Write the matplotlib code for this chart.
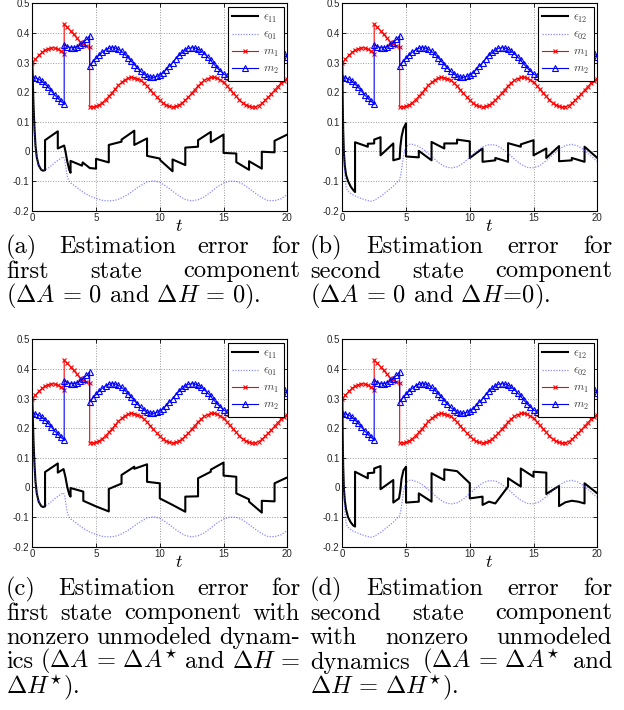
import numpy as np
import matplotlib
matplotlib.use("Agg")
import matplotlib.pyplot as plt

plt.rcParams['mathtext.fontset'] = 'cm'
plt.rcParams['font.family'] = ['Liberation Sans', 'DejaVu Sans']

# bounds m1, m2 sampled every 0.25 (t = 2.5 and 4.5 appear twice: the jumps)
t_m = np.concatenate([np.arange(0, 2.51, 0.25), np.arange(2.5, 4.51, 0.25), np.arange(4.5, 20.01, 0.25)])
m1 = [0.300, 0.312, 0.324, 0.334, 0.342, 0.347, 0.350, 0.349, 0.345, 0.339, 0.330,
      0.430, 0.419, 0.407, 0.395, 0.382, 0.371, 0.362, 0.355, 0.351,
      0.151, 0.150, 0.152, 0.157, 0.165, 0.175, 0.186, 0.198, 0.211, 0.223,
      0.233, 0.241, 0.247, 0.250, 0.249, 0.246, 0.240, 0.231, 0.221, 0.209,
      0.196, 0.184, 0.173, 0.163, 0.156, 0.152, 0.150, 0.152, 0.156, 0.164,
      0.173, 0.184, 0.197, 0.209, 0.221, 0.232, 0.240, 0.246, 0.250, 0.250,
      0.247, 0.241, 0.233, 0.222, 0.210, 0.198, 0.186, 0.174, 0.164, 0.157,
      0.152, 0.150, 0.151, 0.155, 0.162, 0.172, 0.183, 0.195, 0.207, 0.219,
      0.230, 0.239, 0.246]
m2 = [0.250, 0.248, 0.244, 0.237, 0.227, 0.216, 0.204, 0.191, 0.179, 0.169, 0.160,
      0.360, 0.354, 0.350, 0.350, 0.353, 0.359, 0.367, 0.378, 0.389,
      0.289, 0.302, 0.314, 0.326, 0.335, 0.343, 0.348, 0.350, 0.349, 0.345,
      0.338, 0.328, 0.317, 0.305, 0.293, 0.281, 0.270, 0.261, 0.254, 0.251,
      0.250, 0.253, 0.258, 0.266, 0.276, 0.288, 0.300, 0.313, 0.324, 0.334,
      0.342, 0.348, 0.350, 0.349, 0.345, 0.339, 0.330, 0.319, 0.307, 0.294,
      0.282, 0.271, 0.262, 0.255, 0.251, 0.250, 0.252, 0.257, 0.265, 0.275,
      0.286, 0.299, 0.311, 0.323, 0.333, 0.341, 0.347, 0.350, 0.349, 0.346,
      0.340, 0.331, 0.320]

# open-loop errors (dotted)
t_e01 = [0, 0.05, 0.1, 0.15, 0.2, 0.3, 0.4, 0.5, 0.65, 0.8, 1.0, 1.25, 1.5, 1.75, 2.0,
         2.25, 2.45, 2.55, 2.65, 2.75, 2.85, 3.0, 3.5, 4.0, 4.5, 5.0, 5.5, 6.0, 6.5,
         7.0, 7.5, 8.0, 8.5, 9.0, 9.5, 10.0, 10.5, 11.0, 11.5, 12.0, 12.5, 13.0, 13.5,
         14.0, 14.5, 15.0, 15.5, 16.0, 16.5, 17.0, 17.5, 18.0, 18.5, 19.0, 19.5, 20.0]
e01 = [0.30, 0.20, 0.13, 0.08, 0.045, -0.005, -0.03, -0.045, -0.058, -0.063,
       -0.062, -0.056, -0.048, -0.038, -0.030, -0.023, -0.018, -0.030, -0.060, -0.085,
       -0.098, -0.106, -0.122, -0.138, -0.150, -0.159, -0.165, -0.167, -0.165, -0.157,
       -0.145, -0.130, -0.115, -0.103, -0.099, -0.104, -0.118, -0.134, -0.150, -0.162,
       -0.167, -0.163, -0.153, -0.137, -0.120, -0.107, -0.100, -0.101, -0.110, -0.125,
       -0.141, -0.156, -0.166, -0.166, -0.160, -0.145]
t_e02 = [0, 0.05, 0.1, 0.15, 0.2, 0.3, 0.4, 0.6, 0.8, 1.0, 1.5, 2.0, 2.25, 2.5, 3.0,
         3.5, 4.0, 4.5, 4.6, 4.7, 4.8, 4.9, 5.0, 5.25, 5.5, 6.0, 6.5, 7.0, 7.5, 8.0,
         8.5, 9.0, 9.5, 10.0, 10.5, 11.0, 11.5, 12.0, 12.5, 13.0, 13.5, 14.0, 14.5,
         15.0, 15.5, 16.0, 16.5, 17.0, 17.5, 18.0, 18.5, 19.0, 19.5, 20.0]
e02 = [0.30, 0.15, 0.04, -0.04, -0.085, -0.12, -0.132, -0.14, -0.146, -0.150,
       -0.159, -0.166, -0.168, -0.165, -0.152, -0.135, -0.117, -0.095, -0.075, -0.045,
       -0.015, 0.005, 0.016, 0.024, 0.024, 0.017, 0.002, -0.017, -0.036, -0.050,
       -0.056, -0.052, -0.039, -0.020, -0.001, 0.015, 0.023, 0.022, 0.011, -0.006,
       -0.026, -0.043, -0.054, -0.055, -0.048, -0.031, -0.012, 0.007, 0.020, 0.024,
       0.018, 0.004, -0.015, -0.034]

# event-triggered errors (solid black), vertices
t_e11a = [0, 0.05, 0.1, 0.17, 0.25, 0.35, 0.5, 0.7, 0.85, 1.0, 1.0, 2.0,
          2.0, 2.5, 2.6, 2.75, 2.9, 3.0, 3.0, 3.9, 3.95, 4.45, 4.5, 5.0, 5.0, 6.0,
          6.0, 7.0, 7.0, 8.0, 8.0, 9.0, 9.0, 10.0, 10.05, 11.0, 11.0, 12.0, 12.0, 13.0,
          13.0, 14.0, 14.0, 15.0, 15.0, 16.0, 16.0, 17.0, 17.0, 18.0, 18.0, 19.0, 19.0, 20.0]
e11a = [0.30, 0.22, 0.15, 0.08, 0.02, -0.02, -0.047, -0.062, -0.065, -0.063, 0.038, 0.068,
        0.010, 0.020, 0.000, -0.035, -0.062, -0.072, -0.032, -0.048, -0.037, -0.054, -0.056, -0.058, -0.025, -0.037,
        0.022, 0.033, 0.040, 0.070, 0.022, 0.044, -0.015, -0.024, -0.030, -0.067, -0.027, -0.046, 0.013, 0.016,
        0.038, 0.066, 0.031, 0.057, -0.005, -0.007, -0.036, -0.062, -0.033, -0.058, -0.001, -0.003, 0.036, 0.057]
t_e12b = [0, 0.03, 0.07, 0.12, 0.2, 0.3, 0.45, 0.65, 0.85, 1.0, 1.0, 2.0, 2.0, 2.5, 2.5, 3.0,
          3.0, 4.0, 4.0, 4.5, 4.55, 4.65, 4.8, 5.0, 5.0, 6.0, 6.0, 7.0, 7.0, 8.0, 8.0, 9.0,
          9.0, 10.0, 10.0, 11.0, 11.0, 12.0, 12.0, 13.0, 13.0, 14.0, 14.0, 15.0, 15.0, 16.0,
          16.0, 17.0, 17.0, 18.0, 18.0, 19.0, 19.0, 20.0]
e12b = [0.30, 0.17, 0.07, 0.0, -0.05, -0.08, -0.10, -0.118, -0.13, -0.137, 0.031, 0.016, 0.026, 0.027, 0.040, 0.048,
        -0.013, 0.027, -0.030, -0.024, 0.015, 0.050, 0.078, 0.095, -0.017, -0.020, 0.002, -0.030, 0.032, 0.010, 0.027, 0.027,
        0.040, 0.034, -0.022, 0.010, -0.035, -0.030, -0.022, -0.035, 0.028, 0.016, 0.024, 0.038, -0.013, 0.010,
        -0.022, 0.018, -0.033, -0.030, -0.022, -0.035, 0.016, -0.022]
t_e11c = [0, 0.05, 0.1, 0.17, 0.25, 0.35, 0.5, 0.7, 0.85, 1.0, 1.0, 2.0,
          2.0, 2.45, 2.6, 2.75, 2.9, 3.0, 3.0, 4.0, 4.0, 5.0, 6.0,
          6.0, 7.0, 7.0, 8.0, 8.0, 9.0, 9.0, 10.0, 10.0, 11.0, 12.0, 12.0, 13.0,
          13.0, 14.0, 14.0, 15.0, 15.0, 16.0, 16.0, 17.0, 17.0, 18.0, 18.0, 19.0, 19.0, 20.0]
e11c = [0.30, 0.22, 0.15, 0.08, 0.02, -0.02, -0.048, -0.063, -0.066, -0.064, 0.052, 0.081,
        0.050, 0.062, 0.035, 0.0, -0.024, -0.031, -0.002, -0.014, -0.045, -0.064, -0.081,
        -0.005, 0.013, 0.042, 0.070, 0.063, 0.078, 0.019, 0.014, -0.037, -0.059, -0.082, -0.031, -0.030,
        0.031, 0.053, 0.060, 0.084, 0.040, 0.036, -0.020, -0.040, -0.048, -0.085, -0.045, -0.047, 0.014, 0.034]
t_e12d = [0, 0.03, 0.07, 0.12, 0.2, 0.3, 0.45, 0.65, 0.85, 1.0, 1.0, 2.0, 2.0, 2.5, 2.5, 3.0,
          3.0, 4.0, 4.0, 4.45, 4.55, 4.65, 4.8, 5.0, 5.0, 6.0, 6.0, 7.0,
          7.0, 8.0, 8.0, 9.0, 10.0, 10.0, 11.0, 11.0, 11.5, 12.0, 13.0, 13.0, 14.0, 14.0, 15.0, 15.0, 16.0,
          16.0, 17.0, 17.0, 17.5, 18.0, 18.5, 19.0, 19.0, 20.0]
e12d = [0.30, 0.17, 0.07, 0.0, -0.045, -0.075, -0.10, -0.117, -0.128, -0.132, 0.053, 0.031, 0.048, 0.050, 0.064, 0.072,
        -0.006, 0.025, -0.051, -0.037, -0.010, 0.030, 0.058, 0.070, -0.051, -0.048, -0.020, -0.048,
        0.048, 0.025, 0.061, 0.055, 0.014, -0.037, -0.031, -0.059, -0.048, -0.054, 0.003, 0.031, 0.003, 0.064, 0.036, 0.053, 0.050,
        -0.022, 0.005, -0.063, -0.050, -0.045, -0.048, -0.054, 0.014, -0.020]

x_ticks = [0, 5, 10, 15, 20]
y_ticks = [-0.2, -0.1, 0, 0.1, 0.2, 0.3, 0.4, 0.5]
y_ticklabels = ['-0.2', '-0.1', '0', '0.1', '0.2', '0.3', '0.4', '0.5']

panels = [
    (t_e11a, e11a, t_e01, e01, r'$\epsilon_{11}$', r'$\epsilon_{01}$'),
    (t_e12b, e12b, t_e02, e02, r'$\epsilon_{12}$', r'$\epsilon_{02}$'),
    (t_e11c, e11c, t_e01, e01, r'$\epsilon_{11}$', r'$\epsilon_{01}$'),
    (t_e12d, e12d, t_e02, e02, r'$\epsilon_{12}$', r'$\epsilon_{02}$'),
]

captions = [
    [(['(a)', 'Estimation', 'error', 'for'], True),
     (['first', 'state', 'component'], True),
     ([r'$(\Delta A\,=\,0$', 'and', r'$\Delta H\,=\,0)$.'], False)],
    [(['(b)', 'Estimation', 'error', 'for'], True),
     (['second', 'state', 'component'], True),
     ([r'$(\Delta A\,=\,0$', 'and', r'$\Delta H\!=\!0)$.'], False)],
    [(['(c)', 'Estimation', 'error', 'for'], True),
     (['first', 'state', 'component', 'with'], True),
     (['nonzero', 'unmodeled', 'dynam-'], True),
     (['ics', r'$(\Delta A\,=\,\Delta A^{\star}$', 'and', r'$\Delta H\,=$'], True),
     ([r'$\Delta H^{\star})$.'], False)],
    [(['(d)', 'Estimation', 'error', 'for'], True),
     (['second', 'state', 'component'], True),
     (['with', 'nonzero', 'unmodeled'], True),
     (['dynamics', r'$(\Delta A\,=\,\Delta A^{\star}$', 'and'], True),
     ([r'$\Delta H\,=\,\Delta H^{\star})$.'], False)],
]

W, H = 624, 710
fig = plt.figure(figsize=(W / 100, H / 100), dpi=100)

# axes boxes in pixels: left, top, right, bottom
boxes = [(32.3, 3.3, 287.3, 210.7), (342.3, 3.3, 597.3, 210.7),
         (32.3, 339.3, 287.3, 546.7), (342.3, 339.3, 597.3, 546.7)]
# caption columns: x0, x1, first baseline
cols = [(6, 300, 253), (310, 612, 253), (6, 300, 595), (310, 612, 595)]

for (l, t, r, b), (te, e, t0, e0, lab1, lab0) in zip(boxes, panels):
    ax = fig.add_axes([l / W, 1 - b / H, (r - l) / W, (b - t) / H])
    h1, = ax.plot(te, e, '-', color='black', lw=1.5)
    h0, = ax.plot(t0, e0, linestyle=(0, (1, 1.2)), color='#4a4aff', lw=0.9, alpha=0.65)
    hm1, = ax.plot(t_m, m1, '-x', color='red', lw=0.8, ms=3.5, mew=0.8)
    hm2, = ax.plot(t_m, m2, '-^', color='blue', lw=0.8, ms=5, mew=0.8, mfc='none')
    ax.set_xlim(0, 20)
    ax.set_ylim(-0.2, 0.5)
    ax.set_xticks(x_ticks)
    ax.set_yticks(y_ticks)
    ax.set_yticklabels(y_ticklabels)
    ax.tick_params(direction='in', length=3, width=0.6, top=True, right=True,
                   labelsize=7, pad=2, colors='black', labelcolor='0.15')
    ax.grid(True, linestyle=':', color='0.6', linewidth=0.7)
    for s in ax.spines.values():
        s.set_linewidth(0.8)
    ax.set_xlabel('$t$', fontsize=13)
    ax.xaxis.set_label_coords(0.575, -0.035)
    leg = ax.legend([h1, h0, hm1, hm2], [lab1, lab0, r'$m_1$', r'$m_2$'],
                    loc='upper right', fontsize=8.5, handlelength=2.2, handletextpad=0.4,
                    labelspacing=0.35, borderpad=0.4, borderaxespad=0.3,
                    fancybox=False, framealpha=1, edgecolor='black', numpoints=1)
    leg.get_frame().set_linewidth(0.8)
    for txt in leg.get_texts():
        txt.set_color('0.25')

renderer = fig.canvas.get_renderer()
cap_kw = dict(fontfamily='cmr10', fontsize=17.6, va='baseline', ha='left')
for (x0, x1, y0), lines in zip(cols, captions):
    for i, (words, justify) in enumerate(lines):
        y = 1 - (y0 + i * 24.5) / H
        if not justify:
            fig.text(x0 / W, y, ' '.join(words), **cap_kw)
            continue
        texts = [fig.text(0, y, w, **cap_kw) for w in words]
        widths = [tx.get_window_extent(renderer).width for tx in texts]
        gap = (x1 - x0 - sum(widths)) / (len(words) - 1)
        x = x0
        for tx, w in zip(texts, widths):
            tx.set_x(x / W)
            x += w + gap

fig.savefig('out.png', dpi=100)
